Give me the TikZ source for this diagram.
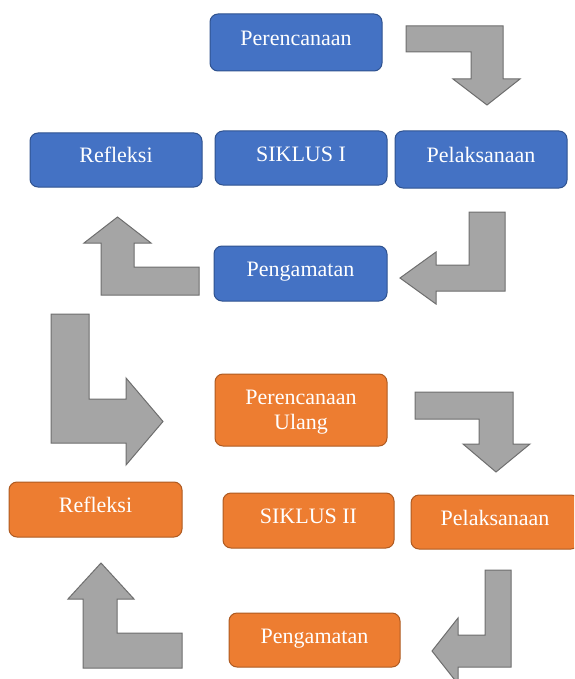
\documentclass[tikz,border=0pt]{standalone}
\usepackage{fontspec}
\setmainfont{Liberation Serif}
\definecolor{bluefill}{HTML}{4472C4}
\definecolor{blueline}{HTML}{2F528F}
\definecolor{orangefill}{HTML}{ED7D31}
\definecolor{orangeline}{HTML}{AE5A21}
\definecolor{arrowfill}{HTML}{A5A5A5}
\definecolor{arrowline}{HTML}{6E6E6E}
\tikzset{
  stagebox/.style={draw, rounded corners=8pt, line width=1pt, text=white,
    font=\fontsize{22}{25}\selectfont, align=center, inner sep=0pt,
    text height=14pt, text depth=8pt},
  bluebox/.style={stagebox, fill=bluefill, draw=blueline},
  orangebox/.style={stagebox, fill=orangefill, draw=orangeline},
  blockarrow/.style={fill=arrowfill, draw=arrowline, line width=1pt, line join=miter},
}
\begin{document}
\begin{tikzpicture}[x=1pt, y=-1pt]
\useasboundingbox (0,0) rectangle (574,679);
\clip (0,0) rectangle (574,679);
% Siklus I
\node[bluebox, minimum width=172pt, minimum height=57pt] (p1) at (296,42.5) {Perencanaan};
\node[bluebox, minimum width=172pt, minimum height=54pt] (s1) at (301,158) {SIKLUS I};
\node[bluebox, minimum width=172pt, minimum height=57pt] (l1) at (481,159.5) {Pelaksanaan};
\node[bluebox, minimum width=172pt, minimum height=54pt] (r1) at (116,160) {Refleksi};
\node[bluebox, minimum width=173pt, minimum height=55pt] (g1) at (300.5,273.5) {Pengamatan};
% Siklus II
\node[orangebox, minimum width=172pt, minimum height=72pt, text height=, text depth=0pt] (p2) at (301,410) {Perencanaan\\Ulang};
\node[orangebox, minimum width=171pt, minimum height=55pt] (s2) at (308.5,520.5) {SIKLUS II};
\node[orangebox, minimum width=168pt, minimum height=54pt] (l2) at (495,522) {Pelaksanaan};
\node[orangebox, minimum width=173pt, minimum height=55pt] (r2) at (95.5,509.5) {Refleksi};
\node[orangebox, minimum width=171pt, minimum height=54pt] (g2) at (314.5,640) {Pengamatan};
% block arrows
\draw[blockarrow] (406,26) -- (503,26) -- (503,79) -- (520,79) -- (487,105) -- (453,79) -- (471,79) -- (471,52) -- (406,52) -- cycle;
\draw[blockarrow] (469,212) -- (505,212) -- (505,291) -- (436,291) -- (436,304) -- (400,278) -- (436,252) -- (436,265) -- (469,265) -- cycle;
\draw[blockarrow] (117.5,217) -- (151,243) -- (134,243) -- (134,267) -- (199,267) -- (199,295) -- (101,295) -- (101,243) -- (84,243) -- cycle;
\draw[blockarrow] (51,314) -- (89,314) -- (89,399) -- (126,399) -- (126,378) -- (163,421.5) -- (126,465) -- (126,443) -- (51,443) -- cycle;
\draw[blockarrow] (415,392) -- (513,392) -- (513,444) -- (530,444) -- (496,472) -- (463,444) -- (479,444) -- (479,419) -- (415,419) -- cycle;
\draw[blockarrow] (485,570) -- (511,570) -- (511,667) -- (458,667) -- (458,684) -- (432,651) -- (458,618) -- (458,635) -- (485,635) -- cycle;
\draw[blockarrow] (101,563) -- (134,599) -- (117,599) -- (117,633) -- (182,633) -- (182,668) -- (83,668) -- (83,599) -- (68,599) -- cycle;
\end{tikzpicture}
\end{document}
